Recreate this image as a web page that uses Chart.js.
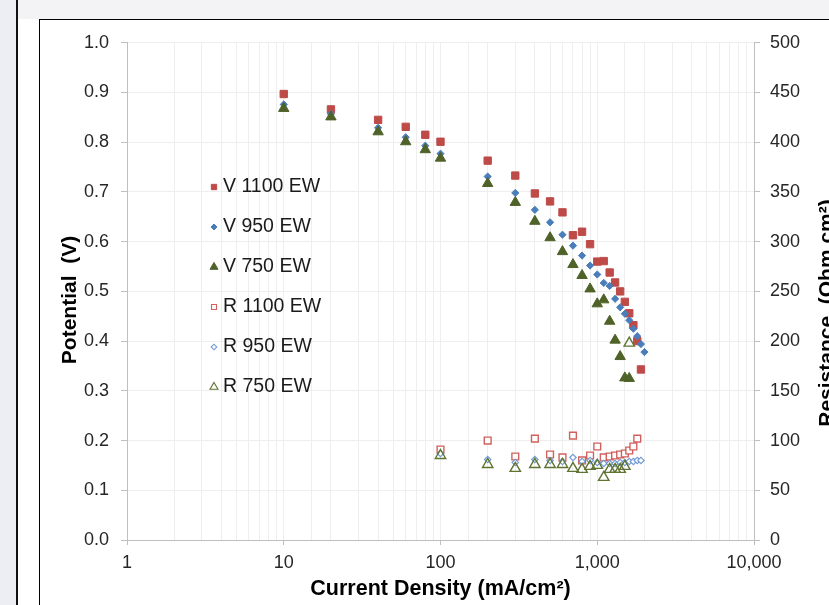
<!DOCTYPE html>
<html>
<head>
<meta charset="utf-8">
<script src="https://cdn.jsdelivr.net/npm/chart.js@4/dist/chart.umd.min.js"></script>
<style>
  html, body { margin: 0; padding: 0; width: 829px; height: 605px; overflow: hidden; background: #fff; }
  #strip  { position: absolute; left: 0; top: 0; width: 16px; height: 605px; background: #eceef3; }
  #edge   { position: absolute; left: 16px; top: 0; width: 2px; height: 605px; background: #111; }
  #topbar { position: absolute; left: 18px; top: 0; width: 811px; height: 19px; background: #f3f3f5; }
  #frame  { position: absolute; left: 39px; top: 19px; width: 820px; height: 620px;
            border-left: 1px solid #000; border-top: 1px solid #000; }
  #salesChart { position: absolute; left: 40px; top: 20px; }
</style>
</head>
<body>
<div id="strip"></div>
<div id="edge"></div>
<div id="topbar"></div>
<div id="frame"></div>
<canvas id="salesChart" width="789" height="585"></canvas>
<script>
// Current density (mA/cm2) for each series
const xV1100 = [10, 20, 40, 60, 80, 100, 200, 300, 400, 500, 600, 700, 800, 900, 1000, 1100, 1200, 1300, 1400, 1500, 1600, 1700, 1800, 1900];
const xV950  = [10, 20, 40, 60, 80, 100, 200, 300, 400, 500, 600, 700, 800, 900, 1000, 1100, 1200, 1300, 1400, 1500, 1600, 1700, 1800, 1900, 2000];
const xV750  = [10, 20, 40, 60, 80, 100, 200, 300, 400, 500, 600, 700, 800, 900, 1000, 1100, 1200, 1300, 1400, 1500, 1600];
const xR1100 = [100, 200, 300, 400, 500, 600, 700, 800, 900, 1000, 1100, 1200, 1300, 1400, 1500, 1600, 1700, 1800];
const xR950  = [100, 200, 300, 400, 500, 600, 700, 800, 900, 1000, 1100, 1200, 1300, 1400, 1500, 1600, 1700, 1800, 1900];
const xR750  = [100, 200, 300, 400, 500, 600, 700, 800, 900, 1000, 1100, 1200, 1300, 1400, 1500, 1600];

// Potential (V)
const v1100 = [0.897, 0.866, 0.845, 0.831, 0.815, 0.801, 0.763, 0.733, 0.697, 0.681, 0.659, 0.613, 0.620, 0.595, 0.560, 0.561, 0.538, 0.518, 0.500, 0.479, 0.456, 0.432, 0.400, 0.343];
const v950  = [0.876, 0.857, 0.829, 0.810, 0.793, 0.777, 0.731, 0.698, 0.664, 0.639, 0.614, 0.592, 0.572, 0.552, 0.534, 0.517, 0.511, 0.485, 0.468, 0.455, 0.442, 0.425, 0.410, 0.394, 0.378];
const v750  = [0.868, 0.851, 0.821, 0.801, 0.785, 0.768, 0.717, 0.679, 0.641, 0.608, 0.580, 0.554, 0.532, 0.505, 0.475, 0.483, 0.440, 0.402, 0.369, 0.326, 0.325];

// Resistance (Ohm cm2)
const r1100 = [91, 100, 84, 102, 86, 83, 105, 80, 85, 94, 83, 84, 85, 86, 87, 90, 94, 102];
const r950  = [87, 81, 78, 81, 80, 79, 83, 79, 80, 78, 77, 77, 77, 78, 78, 79, 79, 80, 80];
const r750  = [85, 76, 72, 76, 76, 76, 72, 71, 74, 75, 63, 71, 71, 71, 74, 198];

const seriesNames = ['V 1100 EW', 'V 950 EW', 'V 750 EW', 'R 1100 EW', 'R 950 EW', 'R 750 EW'];
const xTitle = 'Current Density (mA/cm²)';
const yTitle = 'Potential  (V)';
const y2Title = 'Resistance  (Ohm cm²)';

Chart.defaults.font.family = "'Liberation Sans', Arial, sans-serif";
Chart.defaults.color = '#262626';

const toPoints = (xs, ys) => xs.map((x, i) => ({ x: x, y: ys[i] }));
const isDecade = v => { const e = Math.log10(v); return Math.abs(e - Math.round(e)) < 1e-6; };

// marker look per series: style, radius, fill, border, width, axis
const looks = [
  { style: 'rect',     r: 5.2, fill: '#be4b48', line: '#be4b48', w: 1,   axis: 'y'  },
  { style: 'rectRot',  r: 3.6, fill: '#4a7ebb', line: '#4a7ebb', w: 1,   axis: 'y'  },
  { style: 'triangle', r: 6,   fill: '#4f6228', line: '#4f6228', w: 1,   axis: 'y'  },
  { style: 'rect',     r: 4.8, fill: '#ffffff', line: 'rgba(200,70,66,0.85)', w: 1.4, axis: 'y2' },
  { style: 'rectRot',  r: 3.2, fill: '#ffffff', line: 'rgba(90,140,205,0.85)', w: 1.2, axis: 'y2' },
  { style: 'triangle', r: 6,   fill: 'rgba(255,255,255,0)', line: '#5f7433', w: 1.4, axis: 'y2' }
];
const pointSets = [
  toPoints(xV1100, v1100), toPoints(xV950, v950), toPoints(xV750, v750),
  toPoints(xR1100, r1100), toPoints(xR950, r950), toPoints(xR750, r750)
];

const datasets = seriesNames.map((name, i) => ({
  label: name,
  data: pointSets[i],
  yAxisID: looks[i].axis,
  order: seriesNames.length - i, // later series drawn on top, like the source
  pointStyle: looks[i].style,
  pointRadius: looks[i].r,
  pointHoverRadius: looks[i].r,
  backgroundColor: looks[i].fill,
  borderColor: looks[i].line,
  pointBorderWidth: looks[i].w,
  borderWidth: looks[i].w,
  showLine: false
}));

// legend inside the plot and the two vertical axis titles
const overlay = {
  id: 'overlay',
  afterDraw(chart) {
    const ctx = chart.ctx;
    ctx.save();
    const legX = 174, legY = 166, gap = 40;
    const legR = [3.8, 3, 4.6, 3.5, 2.8, 4.6];
    seriesNames.forEach((name, i) => {
      const y = legY + i * gap;
      ctx.fillStyle = looks[i].fill;
      ctx.strokeStyle = looks[i].line;
      ctx.lineWidth = looks[i].w > 1 ? 1.1 : 1;
      Chart.helpers.drawPoint(ctx, { pointStyle: looks[i].style, radius: legR[i], borderWidth: 1, rotation: 0 }, legX, y + 1);
      ctx.fillStyle = '#1a1a1a';
      ctx.font = "19.5px 'Liberation Sans', Arial, sans-serif";
      ctx.textAlign = 'left';
      ctx.textBaseline = 'middle';
      ctx.fillText(name, legX + 9, y + 1);
    });

    ctx.fillStyle = '#000';
    ctx.font = "bold 21px 'Liberation Sans', Arial, sans-serif";
    ctx.textAlign = 'center';
    ctx.textBaseline = 'middle';
    ctx.translate(30, 280);
    ctx.rotate(-Math.PI / 2);
    ctx.fillText(yTitle, 0, 0);
    ctx.setTransform(1, 0, 0, 1, 0, 0);
    ctx.translate(787, 293);
    ctx.rotate(-Math.PI / 2);
    ctx.fillText(y2Title, 0, 0);
    ctx.restore();
  }
};

const ctx = document.getElementById('salesChart').getContext('2d');
const chart = new Chart(ctx, {
  type: 'scatter',
  data: { datasets: datasets },
  options: {
    responsive: false,
    animation: false,
    devicePixelRatio: 1,
    layout: { padding: { left: 0, top: 22, right: 0, bottom: 0 } },
    plugins: { legend: { display: false }, tooltip: { enabled: false } },
    scales: {
      x: {
        type: 'logarithmic',
        min: 1,
        max: 10000,
        afterFit: s => { s.height = 65; },
        border: { color: '#bfbfbf' },
        grid: {
          color: '#eeeeee',
          tickLength: 5,
          tickColor: c => (c.tick && isDecade(c.tick.value)) ? '#bfbfbf' : 'rgba(0,0,0,0)'
        },
        ticks: {
          autoSkip: false,
          maxRotation: 0,
          minRotation: 0,
          padding: 7,
          font: { size: 18 },
          callback: v => isDecade(v) ? Number(v).toLocaleString('en-US') : ''
        },
        title: {
          display: true,
          text: xTitle,
          color: '#000',
          font: { size: 21.5, weight: 'bold' },
          padding: { top: 0, bottom: 3 }
        }
      },
      y: {
        position: 'left',
        min: 0,
        max: 1,
        afterFit: s => { s.width = 87; },
        border: { color: '#bfbfbf' },
        grid: { color: '#eeeeee', tickColor: '#bfbfbf', tickLength: 6 },
        ticks: { stepSize: 0.1, padding: 12, font: { size: 18 }, callback: v => v.toFixed(1) }
      },
      y2: {
        position: 'right',
        min: 0,
        max: 500,
        afterFit: s => { s.width = 75; },
        border: { color: '#bfbfbf' },
        grid: { drawOnChartArea: false, tickColor: '#bfbfbf', tickLength: 6 },
        ticks: { stepSize: 50, padding: 10, font: { size: 18 } }
      }
    }
  },
  plugins: [overlay]
});
</script>
</body>
</html>
